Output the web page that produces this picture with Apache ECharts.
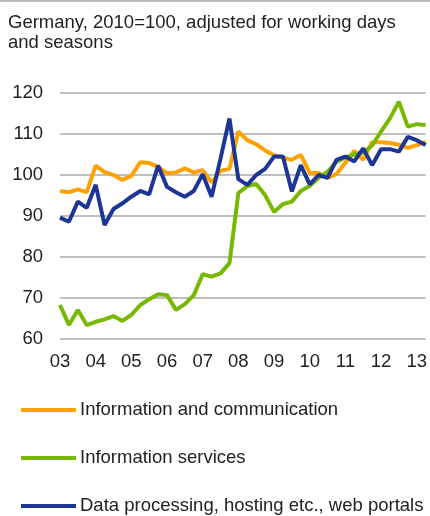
<!DOCTYPE html>
<html>
<head>
<meta charset="utf-8">
<script src="https://cdn.jsdelivr.net/npm/echarts@6/dist/echarts.min.js"></script>
<style>
html, body { margin: 0; padding: 0; background: #fff; }
#chart { width: 430px; height: 516px; }
</style>
</head>
<body>
<div id="chart"></div>
<script>
// quarters 2003 Q1 .. 2013 Q2
var quarters = [
    '03Q1','03Q2','03Q3','03Q4','04Q1','04Q2','04Q3','04Q4',
    '05Q1','05Q2','05Q3','05Q4','06Q1','06Q2','06Q3','06Q4',
    '07Q1','07Q2','07Q3','07Q4','08Q1','08Q2','08Q3','08Q4',
    '09Q1','09Q2','09Q3','09Q4','10Q1','10Q2','10Q3','10Q4',
    '11Q1','11Q2','11Q3','11Q4','12Q1','12Q2','12Q3','12Q4',
    '13Q1','13Q2'
];
var yTicks = [60, 120, 10];

var infoComm = [
    96.1, 95.8, 96.5, 95.8, 102.3, 100.7, 100.0, 98.8,
    99.8, 103.1, 102.9, 102.0, 100.4, 100.6, 101.6, 100.6,
    101.2, 98.2, 101.0, 101.5, 110.6, 108.5, 107.5, 106.0,
    104.8, 104.2, 103.7, 104.9, 100.5, 100.5, 99.3, 100.2,
    103.0, 105.9, 103.7, 108.0, 108.0, 107.8, 107.4, 106.6,
    107.3, 108.1
];
var infoServices = [
    68.3, 63.4, 67.1, 63.4, 64.2, 64.8, 65.6, 64.4,
    65.9, 68.3, 69.7, 70.9, 70.7, 67.1, 68.5, 70.7,
    75.8, 75.2, 76.0, 78.5, 95.6, 97.3, 97.8, 95.1,
    91.0, 92.9, 93.5, 96.1, 97.3, 99.3, 100.8, 103.2,
    104.3, 105.0, 105.5, 107.2, 110.6, 113.8, 117.9, 111.8,
    112.4, 112.2
];
var dataProc = [
    89.6, 88.6, 93.5, 92.0, 97.6, 87.8, 91.7, 93.1,
    94.7, 96.1, 95.3, 102.3, 97.1, 95.8, 94.7, 96.1,
    100.2, 94.7, 104.0, 113.8, 99.0, 97.6, 100.0, 101.5,
    104.5, 104.5, 96.0, 102.4, 97.7, 100.0, 99.3, 103.7,
    104.5, 103.3, 106.5, 102.4, 106.3, 106.3, 105.7, 109.3,
    108.5, 107.3
];

var names = ['Information and communication', 'Information services', 'Data processing, hosting etc., web portals'];
var colors = ['#ffa200', '#76b900', '#1d3594'];
var font = { fontFamily: 'Liberation Sans', fontSize: 18.5, color: '#222' };

// one legend per row, so they stack like the original
var legends = names.map(function (n, i) {
    return {
        orient: 'vertical',
        left: 21,
        top: 400 + i * 48,
        padding: 0,
        itemWidth: 55,
        itemHeight: 4,
        itemGap: 4,
        icon: 'rect',
        data: [n],
        textStyle: Object.assign({ lineHeight: 20, padding: [0, 0, 0, -1] }, font)
    };
});

var chart = echarts.init(document.getElementById('chart'));
chart.setOption({
    animation: false,
    color: colors,
    title: {
        text: 'Germany, 2010=100, adjusted for working days\nand seasons',
        left: 3,
        top: 8,
        textStyle: Object.assign({ fontWeight: 'normal', lineHeight: 20 }, font)
    },
    graphic: [{
        type: 'rect', left: 0, top: 0,
        shape: { width: 430, height: 2 },
        style: { fill: '#bbb' }
    }],
    legend: legends,
    grid: { left: 60, right: 2, top: 93, bottom: 177 },
    xAxis: {
        type: 'category',
        data: quarters,
        boundaryGap: false,
        axisLine: { show: false },
        axisTick: { show: false },
        axisLabel: Object.assign({
            interval: function (idx) { return idx % 4 === 0; },
            formatter: function (v) { return v.slice(0, 2); },
            margin: 13
        }, font),
        splitLine: { show: false }
    },
    yAxis: {
        type: 'value',
        min: yTicks[0],
        max: yTicks[1],
        interval: yTicks[2],
        axisLine: { show: false },
        axisTick: { show: false },
        axisLabel: Object.assign({ margin: 17 }, font),
        splitLine: { lineStyle: { color: '#aaa', width: 1.5 } }
    },
    series: [
        { name: names[0], type: 'line', data: infoComm, symbol: 'none', lineStyle: { width: 4 } },
        { name: names[1], type: 'line', data: infoServices, symbol: 'none', lineStyle: { width: 4 } },
        { name: names[2], type: 'line', data: dataProc, symbol: 'none', lineStyle: { width: 4 } }
    ]
});
</script>
</body>
</html>
